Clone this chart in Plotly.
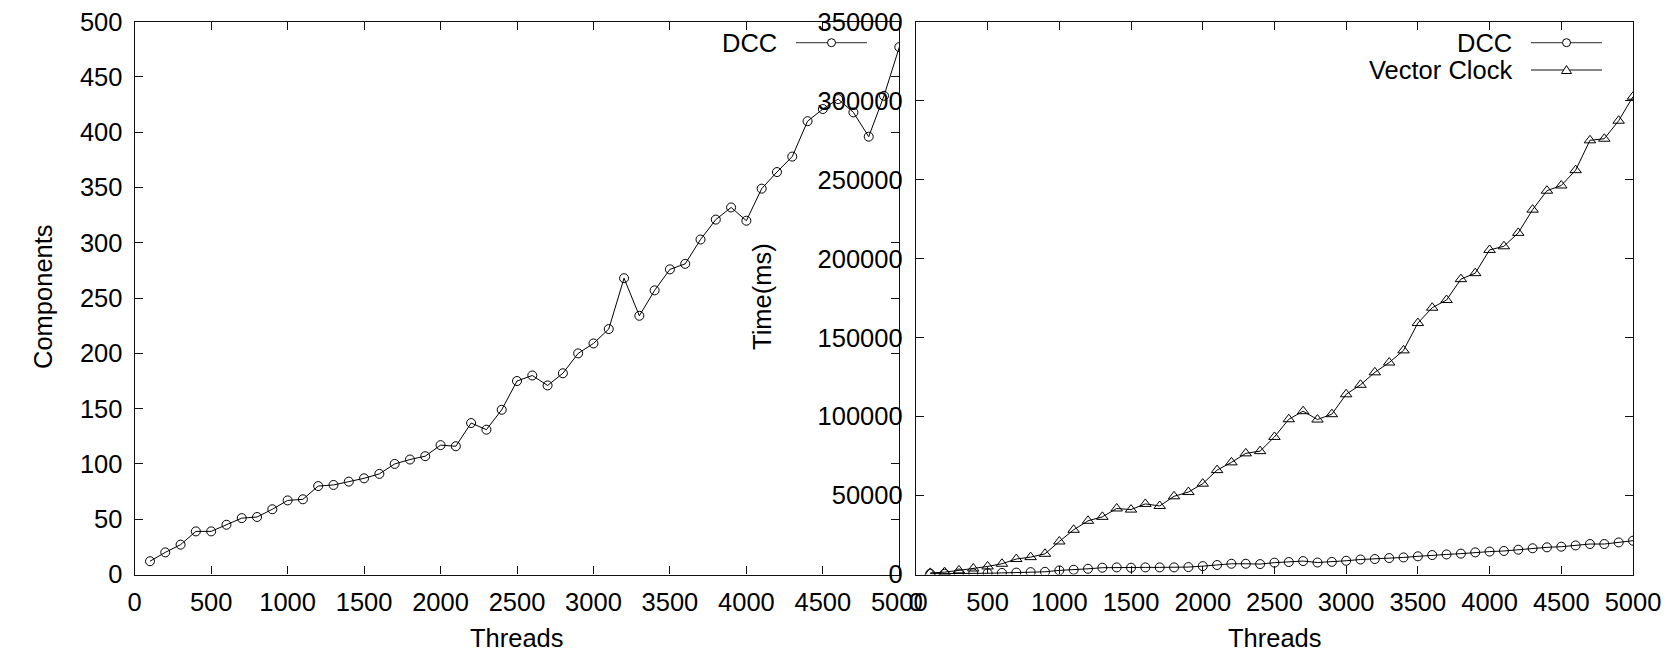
import plotly.graph_objects as go

# ---------------- data ----------------
threads = list(range(100, 5001, 100))

components_dcc = [12, 20, 27, 39, 39, 45, 51, 52, 59, 67,
                  68, 80, 81, 84, 87, 91, 100, 104, 107, 117,
                  116, 137, 131, 149, 175, 180, 171, 182, 200, 209,
                  222, 268, 234, 257, 276, 281, 303, 321, 332, 320,
                  349, 364, 378, 410, 421, 430, 418, 396, 433, 477]

time_dcc = [500, 500, 600, 700, 800, 1000, 1200, 1500, 1700, 2600,
            3000, 3600, 4300, 4500, 4300, 4500, 4500, 4500, 4700, 5300,
            6000, 6800, 6800, 6600, 7500, 7900, 8500, 7600, 8000, 8700,
            9500, 9800, 10400, 10800, 11500, 12300, 12700, 13200, 14000, 14500,
            14900, 15700, 16600, 17200, 17600, 18400, 19300, 19300, 20300, 21400]

time_vc = [1000, 1500, 2600, 3800, 5100, 6800, 9800, 11000, 13100, 20900,
           28300, 34000, 36500, 41800, 41100, 44700, 43400, 49500, 52200, 57500,
           66100, 71000, 76700, 78100, 87100, 98300, 103400, 98100, 101500, 114100,
           120100, 128000, 134200, 141900, 159200, 168900, 173800, 187000, 190800, 205500,
           207800, 216300, 231000, 243000, 246300, 256000, 274900, 275900, 287300, 302500]

x_ticks = list(range(0, 5001, 500))
left_y_ticks = list(range(0, 501, 50))
right_y_ticks = list(range(0, 350001, 50000))

# ---------------- layout helpers ----------------
W, H = 1676, 652
FONT = "Liberation Sans, Arial, Helvetica, sans-serif"
FS = 25.5


def px(x):
    return x / W


def py(y):
    return 1 - y / H


line_style = dict(color="black", width=1)

fig = go.Figure()

fig.add_trace(go.Scatter(
    x=threads, y=components_dcc, mode="lines+markers", name="DCC",
    xaxis="x", yaxis="y", line=line_style,
    marker=dict(symbol="circle-open", size=9, color="black", line=dict(width=1)),
    showlegend=False))

fig.add_trace(go.Scatter(
    x=threads, y=time_dcc, mode="lines+markers", name="DCC",
    xaxis="x2", yaxis="y2", line=line_style,
    marker=dict(symbol="circle-open", size=9, color="black", line=dict(width=1)),
    showlegend=False))

fig.add_trace(go.Scatter(
    x=threads, y=time_vc, mode="lines+markers", name="Vector Clock",
    xaxis="x2", yaxis="y2", line=line_style,
    marker=dict(symbol="triangle-up-open", size=10, color="black", line=dict(width=1)),
    showlegend=False))

axis_common = dict(
    showline=True, linecolor="#111", linewidth=1.3, mirror="ticks",
    ticks="inside", ticklen=8, tickwidth=1.2, tickcolor="#111",
    showgrid=False, zeroline=False, tickformat="d", automargin=False,
    ticklabeloverflow="allow",
    tickfont=dict(family=FONT, size=FS, color="black"),
)

ydom = [py(574.5), py(21.7)]

fig.update_layout(
    width=W, height=H,
    margin=dict(l=0, r=0, t=0, b=0, autoexpand=False),
    paper_bgcolor="white", plot_bgcolor="white",
    font=dict(family=FONT, size=FS, color="black"),
    showlegend=False,
    xaxis=dict(domain=[px(134.7), px(899.3)], range=[0, 5000], tickvals=x_ticks,
               anchor="y", ticklabelstandoff=5, **axis_common),
    yaxis=dict(domain=ydom, range=[0, 500], tickvals=left_y_ticks,
               anchor="x", ticklabelstandoff=6, **axis_common),
    xaxis2=dict(domain=[px(915.9), px(1633)], range=[0, 5000], tickvals=x_ticks,
                anchor="y2", ticklabelstandoff=5, **axis_common),
    yaxis2=dict(domain=ydom, range=[0, 350000], tickvals=right_y_ticks,
                anchor="x2", ticklabelstandoff=7, **axis_common),
)

# ---------------- axis titles ----------------
anns = [
    dict(text="Components", x=px(43), y=py(297), textangle=-90),
    dict(text="Time(ms)", x=px(762), y=py(297), textangle=-90),
    dict(text="Threads", x=px(517), y=py(638)),
    dict(text="Threads", x=px(1275), y=py(638)),
]
# ---------------- legends (gnuplot style: text left, sample right) ----------------
legend_items = [
    # text, right edge of text, line x0, line x1, y
    ("DCC", 779, 796, 867, 42.7, "circle"),
    ("DCC", 1514, 1531, 1602, 42.7, "circle"),
    ("Vector Clock", 1514, 1531, 1602, 70.0, "triangle"),
]
shapes = []
for text, xr, lx0, lx1, ly, sym in legend_items:
    anns.append(dict(text=text, x=px(xr), y=py(ly), xanchor="right"))
    shapes.append(dict(type="line", xref="paper", yref="paper",
                       x0=px(lx0), x1=px(lx1), y0=py(ly), y1=py(ly),
                       line=dict(color="#555" if sym == "circle" else "#111", width=1.2)))
    cx = px((lx0 + lx1) / 2)
    if sym == "circle":
        shapes.append(dict(type="circle", xref="paper", yref="paper",
                           xsizemode="pixel", ysizemode="pixel",
                           xanchor=cx, yanchor=py(ly), x0=-4, x1=4, y0=-4, y1=4,
                           fillcolor="white", line=dict(color="black", width=1)))
    else:
        shapes.append(dict(type="path", xref="paper", yref="paper",
                           xsizemode="pixel", ysizemode="pixel",
                           xanchor=cx, yanchor=py(ly),
                           path="M -5,-3.5 L 5,-3.5 L 0,4.5 Z",
                           fillcolor="white", line=dict(color="black", width=1)))

for a in anns:
    a.setdefault("xanchor", "center")
    a.update(xref="paper", yref="paper", yanchor="middle", showarrow=False,
             font=dict(family=FONT, size=FS, color="black"))

fig.update_layout(annotations=anns, shapes=shapes)

# remove the default 8px body margin so the figure fills the 1676x652 window exactly
fig.write_html("out.html",
               config={"displayModeBar": False},
               post_script="document.body.style.margin='0px';"
                           "document.body.style.overflow='hidden';")
